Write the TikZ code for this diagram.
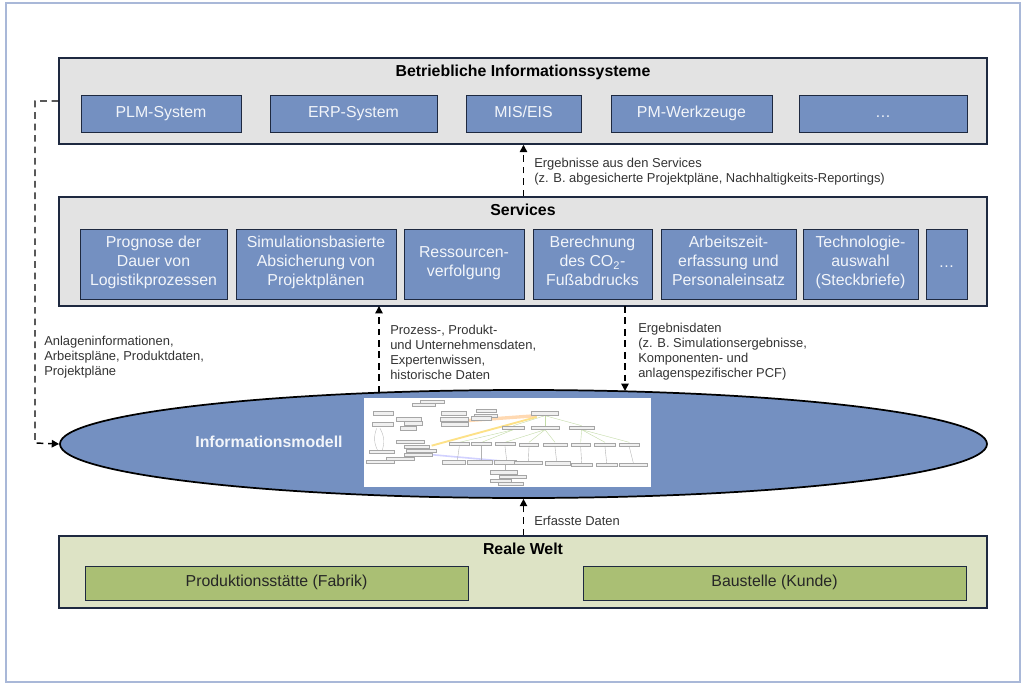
\documentclass[tikz,border=0pt]{standalone}
\usepackage{fontspec}
\setmainfont{Liberation Sans}
\usetikzlibrary{arrows.meta, shapes.geometric}
\definecolor{framecol}{HTML}{A9B8D8}
\definecolor{linecol}{HTML}{1E2940}
\definecolor{panelcol}{HTML}{E3E3E3}
\definecolor{bluecol}{HTML}{7490C1}
\definecolor{textcol}{HTML}{F2F5FA}
\definecolor{greencol}{HTML}{DDE3C5}
\definecolor{leafcol}{HTML}{AABF74}
\begin{document}
\begin{tikzpicture}[x=0.75pt,y=-0.75pt,
  sized/.style 2 args={minimum width=#1*0.75pt,minimum height=#2*0.75pt,inner sep=0pt},
  panel/.style={draw=linecol,line width=1.1pt,fill=panelcol},
  item/.style={draw=linecol,line width=0.7pt,fill=bluecol,text=textcol,align=center,font=\fontsize{11.9}{14.25}\selectfont,execute at begin node=\strut,execute at end node=\strut},
  leaf/.style={draw=linecol,line width=0.7pt,fill=leafcol,text=black!85,font=\fontsize{11.9}{14.25}\selectfont,execute at begin node=\strut},
  headline/.style={font=\fontsize{11.9}{14}\selectfont\bfseries,text=black,execute at begin node=\strut},
  remark/.style={align=left,anchor=west,inner sep=0pt,text=black!80,font=\fontsize{9.7}{11.25}\selectfont},
  flow/.style={draw=black,line width=1.1pt,dash pattern=on 5pt off 3.6pt,-{Triangle[length=5.5pt,width=5.5pt]}},
  tiny/.style={draw=black!35,fill=black!6,line width=0.4pt,inner sep=0pt,minimum height=2.6pt}]

\useasboundingbox (0,0) rectangle (1024,688);
\node[sized={1014}{679},draw=framecol,line width=1.1pt] (frame) at (513,342.5) {};

% Information systems
\node[panel,sized={928}{86}] (systems) at (523,101) {};
\node[headline] (systemstitle) at (523,73) {Betriebliche Informationssysteme};
\node[item,sized={160}{37}] (plm) at (161,113.5) {PLM-System};
\node[item,sized={167}{37}] (erp) at (353.5,113.5) {ERP-System};
\node[item,sized={115}{37}] (mis) at (523.5,113.5) {MIS/EIS};
\node[item,sized={161}{37}] (pm) at (691.5,113.5) {PM-Werkzeuge};
\node[item,sized={168}{37}] (moresystems) at (883,113.5) {\dots};

% Services
\node[panel,sized={928}{109}] (services) at (523,251.5) {};
\node[headline] (servicestitle) at (523,212) {Services};
\node[item,sized={147}{70}] (prognose) at (153.5,264) {Prognose der\\Dauer von\\Logistikprozessen};
\node[item,sized={160}{70}] (simulation) at (316,264) {Simulationsbasierte\\Absicherung von\\Projektplänen};
\node[item,sized={120}{70}] (ressourcen) at (464,264) {Ressourcen-\\verfolgung};
\node[item,sized={119}{70}] (footprint) at (592.5,264) {Berechnung\\des CO\textsubscript{2}-\\Fußabdrucks};
\node[item,sized={135}{70}] (arbeitszeit) at (728.5,264) {Arbeitszeit-\\erfassung und\\Personaleinsatz};
\node[item,sized={115}{70}] (technologie) at (860.5,264) {Technologie-\\auswahl\\(Steckbriefe)};
\node[item,sized={41}{70}] (moreservices) at (946.5,264) {\dots};

% Information model
\node[ellipse,draw=black,line width=1.3pt,fill=bluecol,sized={927}{108}] (model) at (523.5,444) {};
\node[font=\fontsize{11.9}{14}\selectfont\bfseries,text=textcol,execute at begin node=\strut] (modeltitle) at (269,444) {Informationsmodell};
\node[fill=white,sized={287}{89}] (shot) at (507.5,442.5) {};

% Screenshot inside the model, positions in px of a 3x crop
\begin{scope}[shift={(350,385)},x=0.25pt,y=-0.25pt]
  \draw[orange!30,line width=2.5pt] (280,112) -- (560,92);
  \draw[yellow!55!orange!45,line width=1.4pt] (245,182) -- (560,96);
  \draw[blue!18,line width=1.2pt] (200,205) -- (500,232);
  \draw[black!25,line width=0.3pt] (80,130) to[bend right=25] (85,200) (90,130) to[bend left=25] (95,200);
  \foreach \xa/\ya/\xb/\yb in {585/92/490/122,585/92/585/122,585/92/695/122,
      490/134/328/172,490/134/395/172,585/134/465/172,585/134/537/172,585/134/615/172,
      695/134/692/172,695/134/765/172,695/134/838/172}
    \draw[green!45!yellow!60!black!35,line width=0.3pt] (\xa,\ya) -- (\xb,\yb);
  \foreach \xa/\ya/\xb/\yb in {328/184/322/226,395/184/395/226,465/184/470/226,537/186/535/228,
      615/186/620/230,692/186/695/234,765/186/770/234,838/186/850/234,465/238/465/256}
    \draw[black!30,line width=0.3pt] (\xa,\ya) -- (\xb,\yb);
  \foreach \px/\py/\pw in {247/50/70,222/60/70,100/85/60,310/85/75,408/78/60,408/92/70,585/85/80,
      175/103/75,312/103/85,395/100/60,98/118/65,190/115/55,315/118/80,175/130/50,490/128/65,
      585/128/85,695/128/75,180/170/85,200/185/75,215/197/90,205/210/85,95/200/75,150/222/85,
      90/230/85,328/176/62,395/177/60,465/177/60,537/180/58,615/180/72,692/180/58,765/180/62,
      838/180/62,312/232/70,388/232/75,465/232/65,535/233/85,622/235/75,695/240/65,770/240/65,
      850/240/85,462/262/82,488/275/80,452/288/65,482/297/75}
    \node[tiny,minimum width=\pw*0.25pt] at (\px,\py) {};
\end{scope}

% Real world
\node[draw=linecol,line width=1.1pt,fill=greencol,sized={928}{72}] (world) at (523,572) {};
\node[headline] (worldtitle) at (523,551) {Reale Welt};
\node[leaf,sized={383}{34}] (factory) at (276.5,583) {Produktionsstätte (Fabrik)};
\node[leaf,sized={383}{34}] (site) at (774.5,583) {Baustelle (Kunde)};

% Connectors
\coordinate (bendtop) at (35,101);
\coordinate (bendbottom) at (35,443);
\coordinate (inputtop) at (379,306);
\coordinate (inputbottom) at (379,392.5);
\coordinate (resulttop) at (625,306);
\coordinate (resultbottom) at (625,391);
\draw[flow] (systems.west |- bendtop) -- (bendtop) -- (bendbottom) -- (model.west);
\draw[flow] (services.north -| mis) -- (systems.south -| mis);
\draw[flow] (inputbottom) -- (inputtop);
\draw[flow] (resulttop) -- (resultbottom);
\draw[flow] (world.north -| mis) -- (model.south -| mis);

% Labels
\node[remark] (resultslabel) at (534,172) {Ergebnisse aus den Services\\(z. B. abgesicherte Projektpläne, Nachhaltigkeits-Reportings)};
\node[remark] (sourcelabel) at (44,357) {Anlageninformationen,\\Arbeitspläne, Produktdaten,\\Projektpläne};
\node[remark] (inputlabel) at (390,352) {Prozess-, Produkt-\\und Unternehmensdaten,\\Expertenwissen,\\historische Daten};
\node[remark] (outputlabel) at (638,352) {Ergebnisdaten\\(z. B. Simulationsergebnisse,\\Komponenten- und\\anlagenspezifischer PCF)};
\node[remark] (capturedlabel) at (534,521) {Erfasste Daten};

\end{tikzpicture}
\end{document}
